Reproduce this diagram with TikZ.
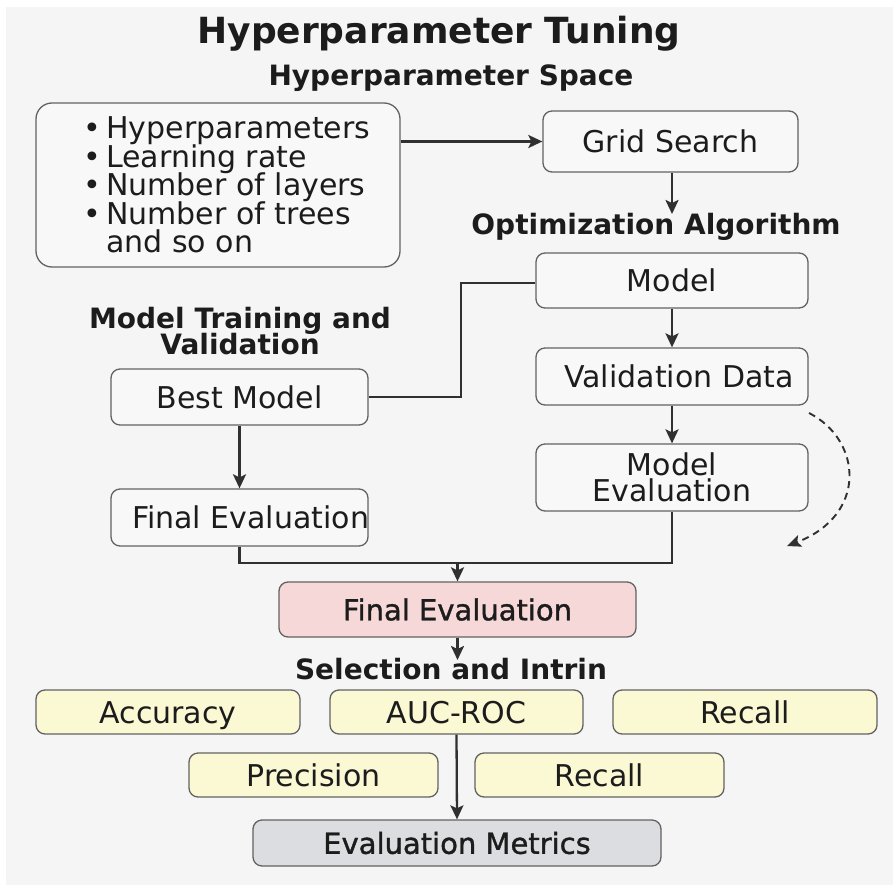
\documentclass[tikz,border=0pt]{standalone}
\usepackage{fontspec}
\setmainfont{DejaVu Sans}
\newfontfamily\medfont[FakeBold=1.2]{DejaVu Sans}
\usetikzlibrary{arrows.meta}
\definecolor{bgc}{HTML}{F5F5F5}
\definecolor{boxline}{HTML}{626262}
\definecolor{boxfill}{HTML}{F8F8F8}
\definecolor{ink}{HTML}{1C1C1C}
\definecolor{arrowc}{HTML}{303030}
\definecolor{pinkfill}{HTML}{F7D8D8}
\definecolor{yelfill}{HTML}{FBF8D4}
\definecolor{grayfill}{HTML}{DCDDE0}
\newcommand{\bul}{\makebox[28pt][c]{\textbullet}}
\tikzset{
  box/.style={draw=boxline, line width=1.3pt, rounded corners=9pt, fill=boxfill,
    inner sep=0pt, text=ink, align=center, font=\fontsize{30}{27}\selectfont},
  metric/.style={box, fill=yelfill, minimum height=44, text height=26pt, text depth=4pt},
  head/.style={inner sep=0pt, text=ink, align=center,
    font=\bfseries\fontsize{28}{26}\selectfont},
  arr/.style={draw=arrowc, line width=2.3pt, -{Stealth[length=14pt,width=13pt,inset=3pt]}},
  lnk/.style={draw=arrowc, line width=2.3pt},
  dasharr/.style={draw=arrowc, line width=1.9pt, dash pattern=on 7pt off 5pt,
    -{Stealth[length=14pt,width=12pt,inset=3pt]}}
}
\begin{document}
% keep line spacing fixed even where glyphs are tall
\lineskiplimit=-100pt
\begin{tikzpicture}[x=1pt,y=-1pt]
% canvas
\useasboundingbox (0,0) rectangle (893,885);
\fill[white] (0,0) rectangle (893,885);
\fill[bgc] (6,7) rectangle (893,885);

% headings
\node[inner sep=0pt, text=ink, font=\bfseries\fontsize{36}{36}\selectfont] (title) at (439,34) {Hyperparameter Tuning};
\node[head] (space) at (451,78) {Hyperparameter Space};
\node[head] (opt) at (656,227) {Optimization Algorithm};
\node[head] (train) at (240,331) {Model Training and\\Validation};
\node[head] (sel) at (451,669) {Selection and Intrin};

% hyperparameter space
\node[box, rounded corners=16pt, minimum width=364, minimum height=164] (hp) at (218,185) {};
\node[anchor=west, inner sep=0pt, text=ink, align=left,
      font=\fontsize{30}{28.5}\selectfont] (hplist) at (78,185)
  {\bul Hyperparameters\\
   \bul Learning rate\\
   \bul Number of layers\\
   \bul Number of trees\\
   \hspace*{28pt}and so on};

% right column
\node[box, minimum width=255, minimum height=61] (gs) at (670.5,141.5) {Grid Search};
\node[box, minimum width=272, minimum height=55] (model) at (672,280.5) {Model};
\node[box, minimum width=272, minimum height=57] (val) at (672,376.5) {\hspace*{14pt}Validation Data};
\node[box, minimum width=272, minimum height=67] (meval) at (672,477.5) {Model\\[-1pt]Evaluation};

% left column
\node[box, minimum width=257, minimum height=56] (best) at (239.5,397) {Best Model};
\node[box, minimum width=257, minimum height=57] (feval) at (239.5,517.5)
  {\makebox[0pt]{\hspace*{22pt}Final Evaluation}};

% final evaluation
\node[box, fill=pinkfill, minimum width=357, minimum height=55, font=\medfont\fontsize{29}{28}\selectfont] (final) at (457.5,609.5) {Final Evaluation};

% metrics
\node[metric, minimum width=264] (acc) at (168,712) {Accuracy};
\node[metric, minimum width=253] (auc) at (456.5,712) {AUC-ROC};
\node[metric, minimum width=264] (rec1) at (745,712) {Recall};
\node[metric, minimum width=249] (prec) at (313.5,775) {Precision};
\node[metric, minimum width=249] (rec2) at (599.5,775) {Recall};
\node[box, fill=grayfill, minimum width=408, minimum height=46, font=\medfont\fontsize{29}{28}\selectfont] (em) at (457,843) {Evaluation Metrics};

% helper points
\coordinate (jog) at (461,283);
\coordinate (merge) at (457.5,563);
\coordinate (optin) at (672,214);
\coordinate (selin) at (457.5,660);
\coordinate (loopa) at (809,413);
\coordinate (loopb) at (787,546);

% connectors
\draw[arr] (hp.east |- gs.west) -- (gs.west);
\draw[arr] (gs.south -| optin) -- (optin);
\draw[lnk] (model.west |- jog) -- (jog) |- (best.east);
\draw[arr] (model.south) -- (val.north);
\draw[arr] (val.south) -- (meval.north);
\draw[arr] (best.south) -- (feval.north);
\draw[lnk] (feval.south) |- (merge) -| (meval.south);
\draw[arr] (merge) -- (final.north);
\draw[arr] (final.south) -- (selin);
\draw[arr] (auc.south) -- (em.north);
\draw[dasharr] (loopa) .. controls (862,440) and (868,515) .. (loopb);
\end{tikzpicture}
\end{document}
